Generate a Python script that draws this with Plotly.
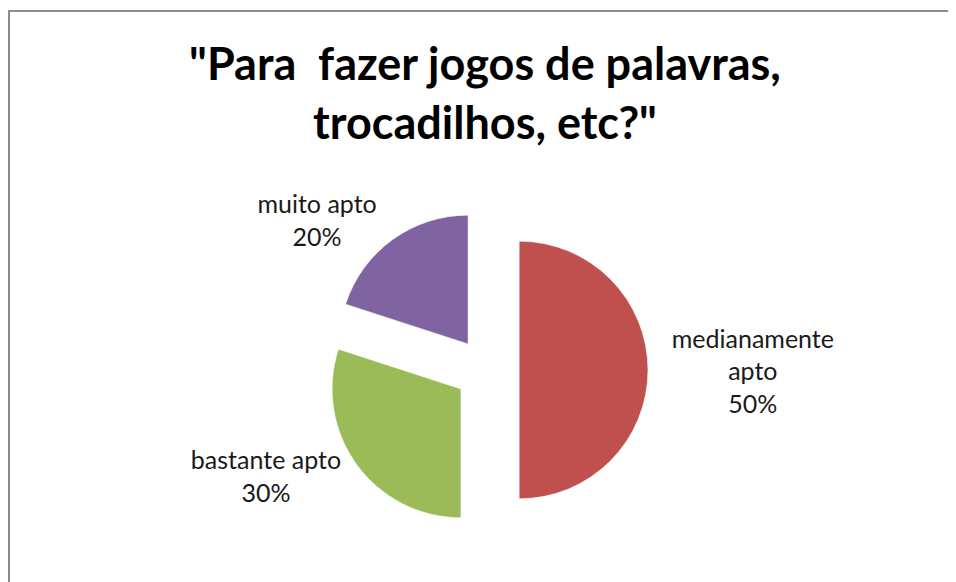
import plotly.graph_objects as go

labels = ['medianamente apto', 'bastante apto', 'muito apto']
values = [50, 30, 20]
label_text = ['medianamente<br>apto<br>50%', 'bastante apto<br>30%', 'muito apto<br>20%']
colors = ['#C0504D', '#9BBB59', '#8064A2']

W, H = 956, 582
# the page body adds ~8px, so positions here sit 8px up/left of the target
cx, cy = 479, 362
half = 161

fig = go.Figure()

fig.add_trace(go.Pie(
    labels=labels,
    values=values,
    text=label_text,
    textinfo='text',
    textposition='outside',
    sort=False,
    direction='clockwise',
    rotation=0,
    pull=[0.25, 0.25, 0.25],
    marker=dict(colors=colors, line=dict(color='white', width=0.5)),
    outsidetextfont=dict(family='Lato', size=25, color='#1a1a1a'),
    showlegend=False,
    domain=dict(
        x=[(cx - half) / W, (cx + half) / W],
        y=[(H - cy - half) / H, (H - cy + half) / H]
    )
))

fig.update_layout(
    width=W,
    height=H,
    title=dict(
        text='"Para  fazer jogos de palavras,<br>trocadilhos, etc?"',
        x=477 / W,
        xanchor='center',
        y=1 - 72 / H,
        yanchor='top',
        font=dict(family='Lato', size=45, color='black', weight='bold')
    ),
    paper_bgcolor='white',
    plot_bgcolor='white',
    margin=dict(l=0, r=0, t=0, b=0),
    shapes=[dict(
        type='rect', xref='paper', yref='paper',
        x0=1 / W, x1=1.2, y0=-0.2, y1=1 - 3 / H,
        line=dict(color='#8c8c8c', width=2)
    )]
)

fig.write_html("out.html")
